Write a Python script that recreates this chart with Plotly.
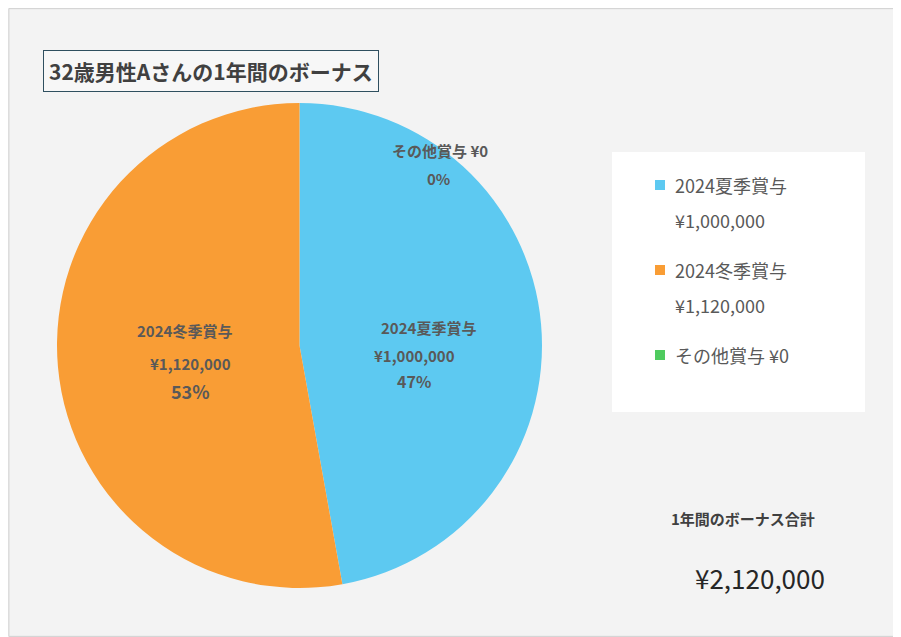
import plotly.graph_objects as go

labels = ["2024夏季賞与", "2024冬季賞与", "その他賞与"]
values = [1000000, 1120000, 0]
colors = ["#5DC9F1", "#F99D35", "#4FCB5F"]
title_text = "32歳男性Aさんの1年間のボーナス"
total_label = "1年間のボーナス合計"

total = sum(values)
font = "Noto Sans CJK JP"
W, H = 893, 629  # page body adds an 8px margin


def px(x, y):
    # screen pixel -> paper coords
    return (x - 8) / W, 1 - (y - 8) / H


fig = go.Figure(go.Pie(
    labels=labels, values=values, sort=False, direction="clockwise", rotation=0,
    marker=dict(colors=colors, line=dict(width=0)),
    textinfo="none", hoverinfo="label+value+percent",
    domain=dict(x=[px(57, 0)[0], px(542, 0)[0]], y=[px(0, 588)[1], px(0, 103)[1]]),
    showlegend=False,
))


def note(sx, sy, text, size, color="#595959", bold=True, anchor="center"):
    x, y = px(sx, sy)
    fig.add_annotation(x=x, y=y, xref="paper", yref="paper", xanchor=anchor, yanchor="middle",
                       text=f"<b>{text}</b>" if bold else text, showarrow=False,
                       font=dict(size=size, color=color, family=font))


# slice labels
pct = [round(100 * v / total) for v in values]
note(428, 327, labels[0], 15)
note(414, 355, f"¥{values[0]:,}", 15)
note(414, 381, f"{pct[0]}%", 16)
note(184, 330, labels[1], 15)
note(190, 363, f"¥{values[1]:,}", 15)
note(190, 391, f"{pct[1]}%", 18)
note(440, 150, f"{labels[2]} ¥{values[2]:,}", 15)
note(438, 178, f"{pct[2]}%", 15)

# legend
shapes = []
lx0, lx1 = px(612, 0)[0], px(865, 0)[0]
ly1, ly0 = px(0, 152)[1], px(0, 412)[1]
shapes.append(dict(type="rect", xref="paper", yref="paper", x0=lx0, x1=lx1, y0=ly0, y1=ly1,
                   fillcolor="white", line=dict(width=0), layer="below"))
for i, (name, v, c) in enumerate(zip(labels, values, colors)):
    sy = 185 + 85 * i
    mx, my = px(660, sy)
    shapes.append(dict(type="rect", xref="paper", yref="paper", x0=mx - 5 / W, x1=mx + 5 / W,
                       y0=my - 5 / H, y1=my + 5 / H, fillcolor=c, line=dict(width=0)))
    if v:
        note(673, sy, name, 18, bold=False, anchor="left")
        note(673, sy + 35, f"¥{v:,}", 18, bold=False, anchor="left")
    else:
        note(673, sy, f"{name} ¥{v:,}", 18, bold=False, anchor="left")

# title
tx, ty = px(43, 71)
fig.add_annotation(x=tx, y=ty, xref="paper", yref="paper", xanchor="left", yanchor="middle",
                   text=f"<b>{title_text}</b>", showarrow=False,
                   font=dict(size=21, color="#404040", family=font),
                   bordercolor="#2F4F5F", borderwidth=1, borderpad=5, bgcolor="#F7F7F7")

note(743, 518, total_label, 15, color="#404040")
note(760, 577, f"¥{total:,}", 26, color="#262626", bold=False)

shapes.append(dict(type="rect", xref="paper", yref="paper", x0=0.001, x1=0.999, y0=0.001, y1=0.999,
                   line=dict(color="#D0D0D0", width=1)))

fig.update_layout(
    width=W, height=H, margin=dict(l=0, r=0, t=0, b=0),
    paper_bgcolor="#F3F3F3", plot_bgcolor="rgba(0,0,0,0)",
    xaxis=dict(visible=False), yaxis=dict(visible=False),
    shapes=shapes,
)

fig.write_html("out.html")
